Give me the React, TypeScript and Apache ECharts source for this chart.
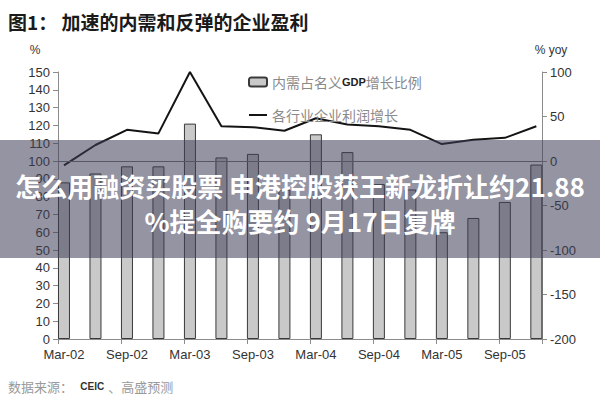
import React, { useEffect, useRef } from 'react';
import * as echarts from 'echarts';

// quarterly data, Mar-02 .. Dec-05
const quarters = [
  'Mar-02', 'Jun-02', 'Sep-02', 'Dec-02',
  'Mar-03', 'Jun-03', 'Sep-03', 'Dec-03',
  'Mar-04', 'Jun-04', 'Sep-04', 'Dec-04',
  'Mar-05', 'Jun-05', 'Sep-05', 'Dec-05',
];
// 内需占名义GDP增长比例 (%), left axis
const demandShare = [88, 93, 97, 97, 121, 102, 104, 84, 115, 105, 87, 84, 60, 68, 77, 98];
// 各行业企业利润增长 (% yoy), right axis
const profitGrowth = [-5, 18, 35, 31, 100, 39, 38, 34, 48, 41, 39, 35, 19, 24, 26, 39];

const seriesNames = ['内需占名义GDP增长比例', '各行业企业利润增长'];
const leftRange = [0, 150, 10];
const rightRange = [-200, 100, 50];

const bannerLines = ['怎么用融资买股票 申港控股获王新龙折让约21.88', '%提全购要约 9月17日复牌'];

const LATIN = '"Liberation Sans", Arial, "Noto Sans CJK SC", sans-serif';
const CJK = '"Noto Sans CJK SC", "Liberation Sans", sans-serif';
// bars sit just right of each quarter tick (Excel style)
const OFFSET = 0.19;

const App: React.FC = () => {
  const chartRef = useRef<HTMLDivElement>(null);

  useEffect(() => {
    document.body.style.margin = '0';
    if (!chartRef.current) return;
    const chart = echarts.init(chartRef.current, undefined, { renderer: 'svg' });

    const axisGray = '#8c8c8c';

    const option: echarts.EChartsOption = {
      animation: false,
      backgroundColor: '#ffffff',
      title: {
        text: '图1： 加速的内需和反弹的企业盈利',
        left: 8,
        top: 12,
        padding: 0,
        textStyle: { fontSize: 19, fontWeight: 'bold', color: '#1a1a1a', fontFamily: CJK },
      },
      legend: {
        orient: 'vertical',
        left: 243,
        top: 70,
        itemGap: 19,
        itemWidth: 18,
        itemHeight: 9,
        data: [
          { name: seriesNames[0] },
          { name: seriesNames[1], itemStyle: { opacity: 0 } },
        ],
        formatter: (name: string) =>
          name === seriesNames[0] ? '内需占名义{b|GDP}增长比例' : name,
        textStyle: {
          color: '#8a8a8a',
          fontSize: 14,
          fontFamily: CJK,
          rich: { b: { fontWeight: 'bold', color: '#222', fontSize: 11, fontFamily: LATIN } },
        },
      },
      grid: { left: 58, right: 58, top: 72, height: 267 },
      xAxis: {
        type: 'value',
        min: 0,
        max: 15.37,
        interval: 2,
        axisLine: { show: true, onZero: false, lineStyle: { color: axisGray } },
        axisTick: { show: true, length: 5, lineStyle: { color: axisGray } },
        splitLine: { show: false },
        axisLabel: {
          color: '#333',
          fontSize: 13,
          fontFamily: LATIN,
          margin: 9,
          padding: [0, 0, 0, 12],
          formatter: (v: number) =>
            Number.isInteger(v) && v % 2 === 0 && quarters[v] ? quarters[v] : '',
        },
      },
      yAxis: [
        {
          type: 'value',
          position: 'left',
          min: leftRange[0],
          max: leftRange[1],
          interval: leftRange[2],
          axisLine: { show: true, onZero: false, lineStyle: { color: axisGray } },
          axisTick: { show: true, length: 5, lineStyle: { color: axisGray } },
          splitLine: { show: false },
          axisLabel: { color: '#333', fontSize: 13, fontFamily: LATIN, margin: 8 },
        },
        {
          type: 'value',
          position: 'right',
          min: rightRange[0],
          max: rightRange[1],
          interval: rightRange[2],
          axisLine: { show: true, onZero: false, lineStyle: { color: axisGray } },
          axisTick: { show: true, length: 5, lineStyle: { color: axisGray } },
          splitLine: { show: false },
          axisLabel: { color: '#333', fontSize: 13, fontFamily: LATIN, margin: 8 },
        },
      ],
      series: [
        {
          name: seriesNames[0],
          type: 'bar',
          yAxisIndex: 0,
          barWidth: 12,
          data: demandShare.map((v, i) => [i + OFFSET, v]),
          itemStyle: { color: '#c9c9c9', borderColor: '#3a3a3a', borderWidth: 1 },
          z: 2,
        },
        {
          name: seriesNames[1],
          type: 'line',
          yAxisIndex: 1,
          symbol: 'none',
          data: profitGrowth.map((v, i) => [i + OFFSET, v]),
          lineStyle: { color: '#141414', width: 2 },
          itemStyle: { color: '#141414' },
          z: 3,
          markLine: {
            silent: true,
            symbol: 'none',
            label: { show: false },
            lineStyle: { color: '#777', type: 'solid', width: 1 },
            data: [{ yAxis: 0 }],
          },
        },
      ],
      graphic: [
        {
          type: 'text',
          x: 35,
          y: 50,
          style: { text: '%', fill: '#333', font: `12px ${LATIN}`, align: 'center', verticalAlign: 'middle' },
        },
        {
          type: 'text',
          x: 551,
          y: 50,
          style: { text: '% yoy', fill: '#333', font: `12px ${LATIN}`, align: 'center', verticalAlign: 'middle' },
        },
        {
          type: 'text',
          x: 8,
          y: 386,
          style: {
            text: '{g|数据来源：} {b|CEIC}{g|、高盛预测}',
            verticalAlign: 'middle',
            rich: {
              g: { fill: '#9a9a9a', fontSize: 13, fontFamily: CJK },
              b: { fill: '#333', fontSize: 10, fontWeight: 'bold', fontFamily: LATIN, padding: [0, 4, 0, 4] },
            },
          } as any,
        },
        {
          type: 'rect',
          z: 100,
          shape: { x: 0, y: 140, width: 600, height: 118 },
          style: { fill: 'rgba(60, 60, 85, 0.55)' },
        },
        {
          type: 'text',
          z: 101,
          x: 300,
          y: 185,
          style: {
            text: bannerLines[0],
            fill: '#ffffff',
            font: `bold 26px ${CJK}`,
            align: 'center',
            verticalAlign: 'middle',
          },
        },
        {
          type: 'text',
          z: 101,
          x: 300,
          y: 220,
          style: {
            text: bannerLines[1],
            fill: '#ffffff',
            font: `bold 26px ${CJK}`,
            align: 'center',
            verticalAlign: 'middle',
          },
        },
      ],
    };

    chart.setOption(option);
    return () => {
      chart.dispose();
    };
  }, []);

  return <div ref={chartRef} style={{ width: '600px', height: '400px' }} />;
};

export default App;
